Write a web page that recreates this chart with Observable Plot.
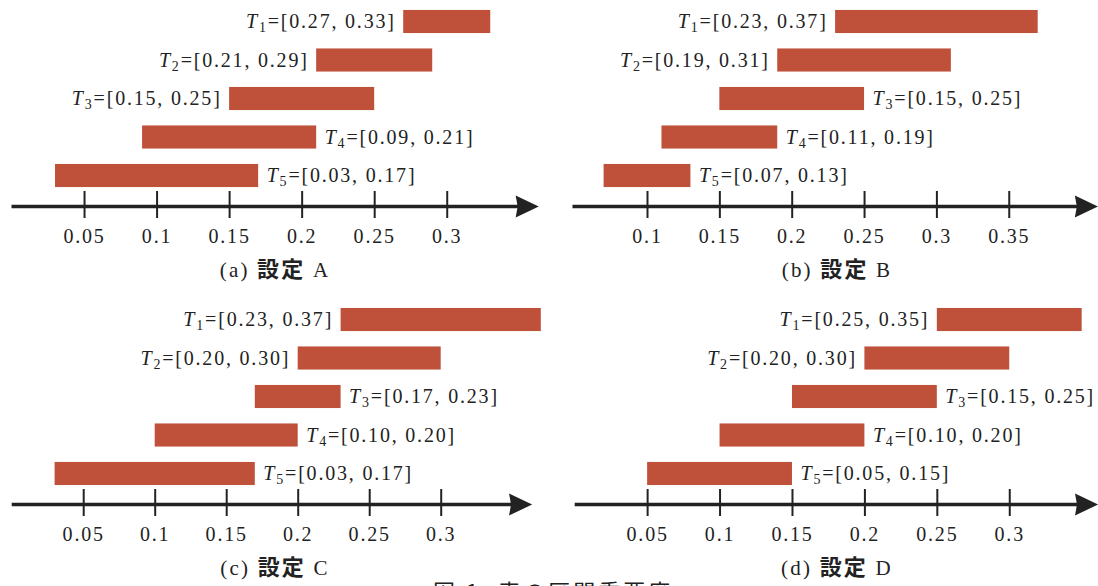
<!DOCTYPE html>
<html>
<head>
<meta charset="utf-8">
<script src="https://cdn.jsdelivr.net/npm/d3@7"></script>
<script src="https://cdn.jsdelivr.net/npm/@observablehq/plot@0.6"></script>
<style>
  html, body { margin: 0; padding: 0; background: #fff; overflow: hidden; width: 1098px; height: 586px; }
  .panel { position: absolute; width: 549px; height: 290px; }
  .panel svg { overflow: visible; max-width: none !important; width: 549px; height: 290px; }
  #figcap { position: absolute; left: 433px; top: 574px; font-family: "Noto Sans CJK JP", sans-serif; font-size: 22px; letter-spacing: 3px; color: #222; white-space: nowrap; line-height: normal; }
</style>
</head>
<body>
<div id="root"></div>
<div id="figcap">図 1: 表の区間重要度</div>
<script>
// ---- data ----
const intervalNames = ["T1", "T2", "T3", "T4", "T5"];

const lowA  = [0.27, 0.21, 0.15, 0.09, 0.03];
const highA = [0.33, 0.29, 0.25, 0.21, 0.17];
const lowB  = [0.23, 0.19, 0.15, 0.11, 0.07];
const highB = [0.37, 0.31, 0.25, 0.19, 0.13];
const lowC  = [0.23, 0.20, 0.17, 0.10, 0.03];
const highC = [0.37, 0.30, 0.23, 0.20, 0.17];
const lowD  = [0.25, 0.20, 0.15, 0.10, 0.05];
const highD = [0.35, 0.30, 0.25, 0.20, 0.15];

const ticksA = [0.05, 0.1, 0.15, 0.2, 0.25, 0.3];
const ticksB = [0.1, 0.15, 0.2, 0.25, 0.3, 0.35];
const ticksC = [0.05, 0.1, 0.15, 0.2, 0.25, 0.3];
const ticksD = [0.05, 0.1, 0.15, 0.2, 0.25, 0.3];

// axis line extent (start, arrow tip) in data units
const axisA = [0, 0.3631];
const axisB = [0.0485, 0.4113];
const axisC = [0, 0.3636];
const axisD = [0, 0.361];

const sideA = ["left", "left", "left", "right", "right"];
const sideB = ["left", "left", "right", "right", "right"];
const sideC = ["left", "left", "right", "right", "right"];
const sideD = ["left", "left", "right", "right", "right"];

const panelLetters = ["a", "b", "c", "d"];
const settingNames = ["A", "B", "C", "D"];
const settingWord = "設定";

// ---- style ----
const barColor = "#bf513b";
const ink = "#222222";
const serif = "'Liberation Serif', 'DejaVu Serif', serif";
const cjk = "'Noto Sans CJK JP', sans-serif";

// stealth-like arrowhead, tip at the origin, pointing right
const arrowHead = {
  draw(ctx, size) {
    const r = Math.sqrt(size / Math.PI);
    const L = 2.1 * r, H = r, n = 0.18 * r;
    ctx.moveTo(0, 0);
    ctx.lineTo(-L, -H);
    ctx.lineTo(-L + n, 0);
    ctx.lineTo(-L, H);
    ctx.closePath();
  }
};

const panels = [
  {lo: lowA, hi: highA, ticks: ticksA, axis: axisA, side: sideA, left: 0,     top: 0,   range: [11.5, 591.8]},
  {lo: lowB, hi: highB, ticks: ticksB, axis: axisB, side: sideB, left: 561.5, top: 0,   range: [-59.7, 519.1]},
  {lo: lowC, hi: highC, ticks: ticksC, axis: axisC, side: sideC, left: 0,     top: 298, range: [11.7, 583.7]},
  {lo: lowD, hi: highD, ticks: ticksD, axis: axisD, side: sideD, left: 561.5, top: 298, range: [12.7, 592.1]}
];

const fmt2 = d3.format(".2f");
const AX = "axis";
const onAxis = () => AX;

function svgEl(name) { return document.createElementNS("http://www.w3.org/2000/svg", name); }

function enrichText(svg) {
  svg.querySelectorAll("text").forEach(t => {
    const s = t.textContent;
    let m = s.match(/^T(\d)=(.*)$/);
    if (m) {
      t.textContent = "";
      const a = svgEl("tspan"); a.textContent = "T"; a.setAttribute("font-style", "italic");
      const b = svgEl("tspan"); b.textContent = m[1]; b.setAttribute("font-size", "14"); b.setAttribute("dy", "4");
      const c = svgEl("tspan"); c.textContent = "=" + m[2]; c.setAttribute("dy", "-4");
      t.append(a, b, c);
      return;
    }
    m = s.match(/^(\(\w\)) (\S+) (\w)$/);
    if (m) {
      t.textContent = "";
      t.setAttribute("font-size", "21");
      t.setAttribute("letter-spacing", "2.2px");
      const a = svgEl("tspan"); a.textContent = m[1] + " ";
      const b = svgEl("tspan"); b.textContent = m[2]; b.setAttribute("font-family", cjk); b.setAttribute("font-weight", "700"); b.setAttribute("font-size", "22");
      const c = svgEl("tspan"); c.textContent = " " + m[3];
      t.append(a, b, c);
    }
  });
}

const root = document.getElementById("root");

panels.forEach((p, k) => {
  const rows = intervalNames.map((name, i) => ({name, lo: p.lo[i], hi: p.hi[i], side: p.side[i]}));
  const label = d => `${d.name}=[${fmt2(d.lo)}, ${fmt2(d.hi)}]`;
  const caption = `(${panelLetters[k]}) ${settingWord} ${settingNames[k]}`;
  const textStyle = {fontFamily: serif, fontSize: 20, fill: ink};

  const svg = Plot.plot({
    width: 549,
    height: 290,
    marginTop: 0, marginRight: 0, marginBottom: 0, marginLeft: 0,
    x: {domain: [0, 0.4], range: p.range, axis: null},
    y: {type: "band", domain: [...intervalNames, AX], range: [-5.45, 240.95], padding: 0.4, round: false, axis: null},
    marks: [
      Plot.barX(rows, {x1: "lo", x2: "hi", y: "name", fill: barColor}),
      Plot.text(rows.filter(d => d.side === "left"), {x: "lo", y: "name", text: label, textAnchor: "end", dx: -8, ...textStyle}),
      Plot.text(rows.filter(d => d.side === "right"), {x: "hi", y: "name", text: label, textAnchor: "start", dx: 8, ...textStyle}),
      Plot.ruleY([{y: AX, x1: p.axis[0], x2: p.axis[1] - 0.01}], {y: "y", x1: "x1", x2: "x2", dy: -8, stroke: ink, strokeWidth: 3.5}),
      Plot.tickX(p.ticks, {x: d => d, y: onAxis, dy: -8, insetTop: -3.45, insetBottom: -0.45, stroke: ink, strokeWidth: 2}),
      Plot.text(p.ticks, {x: d => d, y: onAxis, text: d => String(d), dy: 21.6, ...textStyle}),
      Plot.dot([p.axis[1]], {x: d => d, y: onAxis, dy: -8, symbol: arrowHead, r: 11, fill: ink, stroke: "none"}),
      Plot.text([caption], {y: onAxis, text: d => d, frameAnchor: "middle", dy: 55.5, ...textStyle})
    ]
  });
  svg.style.letterSpacing = "1.8px";
  svg.style.background = "transparent";
  svg.style.maxWidth = "none";
  enrichText(svg);
  const div = document.createElement("div");
  div.className = "panel";
  div.style.left = p.left + "px";
  div.style.top = p.top + "px";
  div.appendChild(svg);
  root.appendChild(div);
});
</script>
</body>
</html>
